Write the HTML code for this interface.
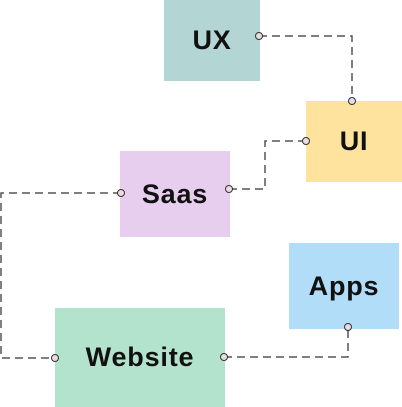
<!DOCTYPE html>
<html><head><style>
html,body{margin:0;padding:0;background:#fff;width:402px;height:407px;overflow:hidden}
.b{position:absolute;display:flex;align-items:center;justify-content:center;font-family:"Liberation Sans",sans-serif;font-weight:600;font-size:27px;letter-spacing:0.8px;color:#111}
svg{position:absolute;left:0;top:0}
</style></head><body>
<div class="b" style="left:164px;top:0;width:96px;height:81px;background:#b3d5d3">UX</div>
<div class="b" style="left:306px;top:101px;width:96px;height:81px;background:#fde39e">UI</div>
<div class="b" style="left:120px;top:151px;width:110px;height:86px;background:#e7cdee">Saas</div>
<div class="b" style="left:289px;top:243px;width:110px;height:86px;background:#b2ddf8">Apps</div>
<div class="b" style="left:55px;top:308px;width:170px;height:99px;background:#b3e3cd">Website</div>
<svg width="402" height="407">
<g fill="none" stroke="#555" stroke-width="1.5" stroke-dasharray="8,5">
<path d="M259 36H352V101"/>
<path d="M306 141H265V189H229"/>
<path d="M121 193H1V358H55"/>
<path d="M224 357H348V327"/>
</g>
<g fill="#eadde2" stroke="#333" stroke-width="1">
<circle cx="259" cy="36" r="3.5"/><circle cx="352" cy="101" r="3.5"/>
<circle cx="306" cy="141" r="3.5"/><circle cx="229" cy="189" r="3.5"/>
<circle cx="121" cy="193" r="3.5"/><circle cx="55" cy="358" r="3.5"/>
<circle cx="224" cy="357" r="3.5"/><circle cx="348" cy="327" r="3.5"/>
</g>
</svg>
</body></html>
